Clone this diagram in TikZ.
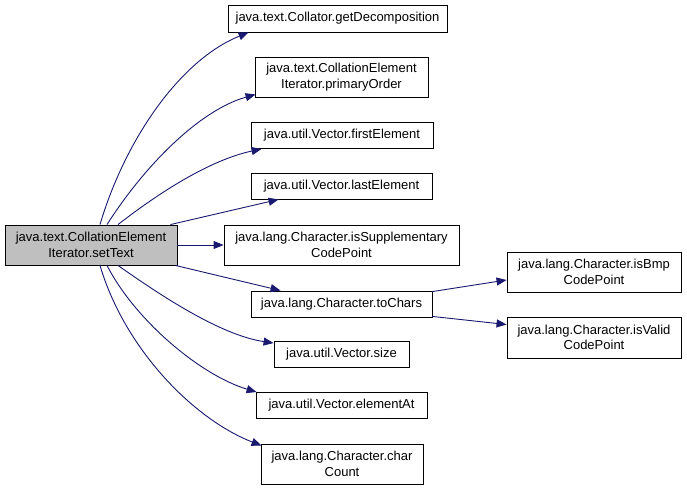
\documentclass[tikz,border=0pt]{standalone}
\usepackage{fontspec}
\setmainfont{Liberation Sans}
\usetikzlibrary{arrows.meta,calc}
\definecolor{edgeblue}{HTML}{191970}
\definecolor{rootgray}{HTML}{BFBFBF}
\tikzset{
  box/.style={draw=black, fill=white, line width=0.9pt, inner sep=0pt, align=center,
    font=\fontsize{13}{15.5}\selectfont},
  rootbox/.style={box, fill=rootgray},
  edge/.style={draw=edgeblue, line width=0.9pt, -{Triangle[length=10pt,width=8pt]}},
}
\begin{document}
\begin{tikzpicture}[x=1pt,y=-1pt]
\useasboundingbox (0,0) rectangle (687,490);
\node[rootbox, minimum width=172pt, minimum height=40pt] (root) at (91,245) {java.text.CollationElement\\Iterator.setText};
\node[box, minimum width=219pt, minimum height=27pt] (gd) at (337.5,18.5) {java.text.Collator.getDecomposition};
\node[box, minimum width=173pt, minimum height=40pt] (po) at (341.5,77) {java.text.CollationElement\\Iterator.primaryOrder};
\node[box, minimum width=182pt, minimum height=26pt] (fe) at (342,135.5) {java.util.Vector.firstElement};
\node[box, minimum width=181pt, minimum height=26pt] (le) at (341.5,186) {java.util.Vector.lastElement};
\node[box, minimum width=235pt, minimum height=40pt] (sup) at (341.5,245) {java.lang.Character.isSupplementary\\CodePoint};
\node[box, minimum width=181pt, minimum height=26pt] (tc) at (341.5,304) {java.lang.Character.toChars};
\node[box, minimum width=135pt, minimum height=26pt] (sz) at (341.5,354.5) {java.util.Vector.size};
\node[box, minimum width=171pt, minimum height=26pt] (ea) at (341.5,405.5) {java.util.Vector.elementAt};
\node[box, minimum width=162pt, minimum height=40pt] (cc) at (342,464) {java.lang.Character.char\\Count};
\node[box, minimum width=174pt, minimum height=40pt] (bmp) at (594,272) {java.lang.Character.isBmp\\CodePoint};
\node[box, minimum width=174pt, minimum height=41pt] (val) at (594,337.5) {java.lang.Character.isValid\\CodePoint};

\draw[edge] ($(root.north)+(9,0)$) .. controls (125,140) and (180,60) .. ($(gd.south west)+(21,0)$);
\draw[edge] ($(root.north)+(16,0)$) .. controls (145,165) and (200,110) .. ($(po.south west)+(1,-3)$);
\draw[edge] ($(root.north)+(27,0)$) .. controls (160,192) and (210,160) .. ($(fe.south west)+(11,0)$);
\draw[edge] ($(root.north east)+(-7,0)$) -- ($(le.south west)+(28,0)$);
\draw[edge] (root.east) -- (sup.west);
\draw[edge] ($(root.south east)+(-2,0)$) -- ($(tc.north west)+(30,0)$);
\draw[edge] ($(root.south)+(27,0)$) .. controls (160,295) and (220,335) .. ($(sz.north west)+(0,2)$);
\draw[edge] ($(root.south)+(16,0)$) .. controls (135,320) and (200,375) .. ($(ea.north west)+(1,0)$);
\draw[edge] ($(root.south)+(9,0)$) .. controls (125,350) and (195,420) .. ($(cc.north west)+(1,2)$);
\draw[edge] ($(tc.north east)+(0,1)$) -- ($(bmp.west)+(0,8)$);
\draw[edge] ($(tc.south east)+(0,-1)$) -- ($(val.west)+(0,-13)$);
\end{tikzpicture}
\end{document}
